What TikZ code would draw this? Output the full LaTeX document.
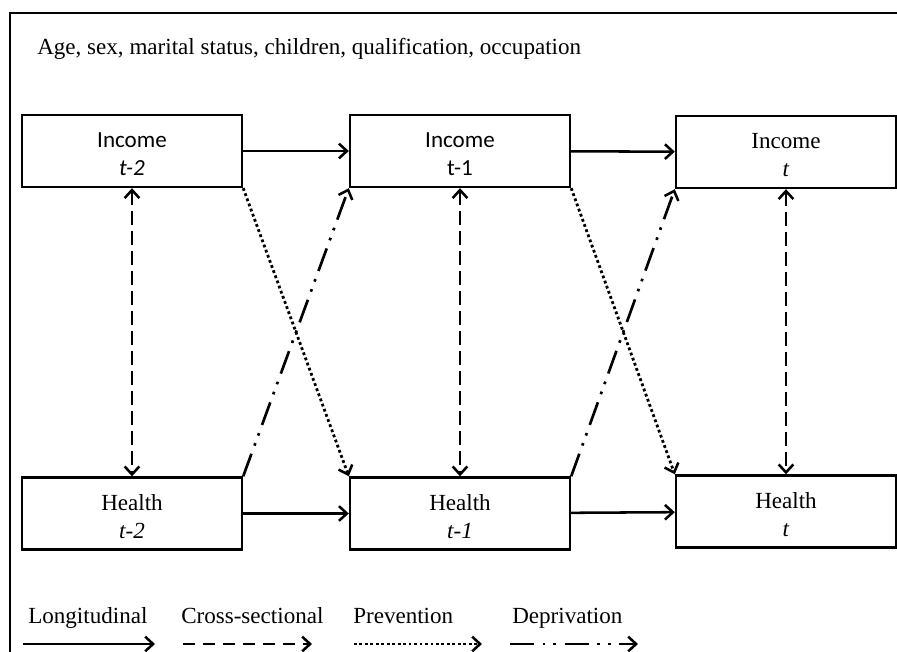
\documentclass[tikz,border=0pt]{standalone}
\usepackage{fontspec}
\setmainfont{Liberation Serif}
\newfontfamily\calfont{Carlito}
\usetikzlibrary{arrows.meta}
\begin{document}
\begin{tikzpicture}[x=0.75pt,y=-0.75pt,
  every node/.style={font=\fontsize{17.3}{21}\selectfont},
  varbox/.style={draw,line width=1.8pt,minimum width=165pt,minimum height=54pt,
                 align=center,inner sep=0pt},
  link/.style={line width=1.9pt,-{Straight Barb[length=6pt,width=11pt,line width=1.9pt]}},
  twoway/.style={line width=1.9pt,{Straight Barb[length=6pt,width=11pt,line width=1.9pt]}-{Straight Barb[length=6pt,width=11pt,line width=1.9pt]}},
  crossdash/.style={dash pattern=on 10pt off 5pt},
  prevdots/.style={line width=2.1pt,dash pattern=on 2.1pt off 2pt},
  depdash/.style={line width=2pt,dash pattern=on 18pt off 6.5pt on 2pt off 6pt on 2pt off 6.5pt},
  legtext/.style={anchor=base west,inner sep=0pt}]
\useasboundingbox (0,0) rectangle (897,652);
\newcommand\toproom{\rule{0pt}{16.5pt}}

% enclosing frame (left and top edges)
\draw[line width=1.8pt] (10,660) -- (10,13) -- (900,13);

% background variables
\node[anchor=base west,inner sep=0pt] (covars) at (37,55)
  {Age, sex, marital status, children, qualification, occupation};

% income row
\node[varbox] (i2) at (132,151) {\toproom{\calfont Income}\\{\calfont\itshape t-2}};
\node[varbox] (i1) at (460,151) {\toproom{\calfont Income}\\{\calfont t-1}};
\node[varbox] (i0) at (786,152) {\toproom Income\\\textit{t}};

% health row
\node[varbox] (h2) at (132,513.5) {\toproom Health\\\textit{t-2}};
\node[varbox] (h1) at (460,513.5) {\toproom Health\\\textit{t-1}};
\node[varbox] (h0) at (786,511.5) {\toproom Health\\\textit{t}};

% longitudinal paths
\draw[link] (i2) -- (i1);
\draw[link] (i1) -- (i0);
\draw[link] (h2) -- (h1);
\draw[link] (h1) -- (h0);

% cross-sectional paths
\draw[twoway,crossdash] (i2) -- (h2);
\draw[twoway,crossdash] (i1) -- (h1);
\draw[twoway,crossdash] (i0) -- (h0);

% prevention paths
\draw[link,prevdots] (i2.south east) -- (h1.north west);
\draw[link,prevdots] (i1.south east) -- (h0.north west);

% deprivation paths
\draw[link,depdash] (h2.north east) -- (i1.south west);
\draw[link,depdash] (h1.north east) -- (i0.south west);

% legend
\node[legtext] (lg1) at (28,623) {Longitudinal};
\node[legtext] (lg2) at (181,623) {Cross-sectional};
\node[legtext] (lg3) at (353,623) {Prevention};
\node[legtext] (lg4) at (512,623) {Deprivation};
\coordinate (a1) at (23,644);  \coordinate (b1) at (155,644);
\coordinate (a2) at (183,644); \coordinate (b2) at (312,644);
\coordinate (a3) at (354,644); \coordinate (b3) at (482,644);
\coordinate (a4) at (510,644); \coordinate (b4) at (638,644);
\draw[link] (a1) -- (b1);
\draw[link,dash pattern=on 9pt off 6pt] (a2) -- (b2);
\draw[link,prevdots] (a3) -- (b3);
\draw[link,depdash] (a4) -- (b4);
\end{tikzpicture}
\end{document}
